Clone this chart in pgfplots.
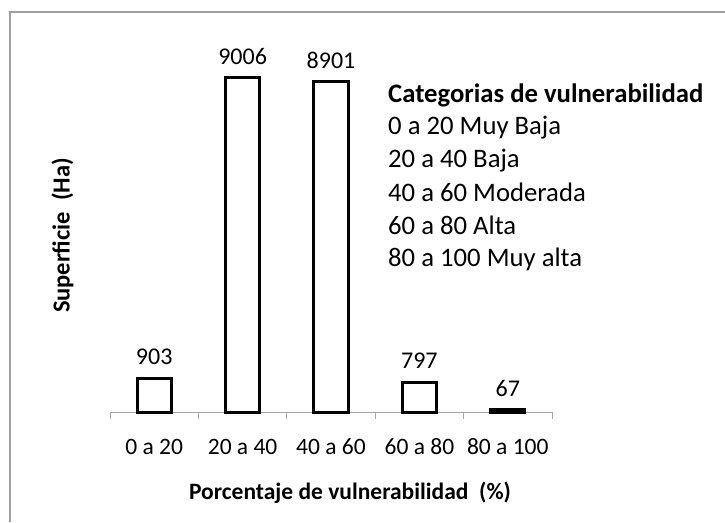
\documentclass[border=0pt]{standalone}
\usepackage{pgfplots}
\pgfplotsset{compat=1.18}
\usepackage{fontspec}
\setmainfont{Carlito}
\begin{document}
\begin{tikzpicture}[x=1pt,y=1pt]
\useasboundingbox (0,0) rectangle (725,522);
\draw[gray!75, line width=1.5pt] (10,0) -- (10,510) -- (725,510);
\begin{axis}[
  at={(110pt,110pt)}, anchor=south west,
  scale only axis, width=442pt, height=376pt,
  xmin=-0.5, xmax=4.5, ymin=0, ymax=10130,
  axis x line=bottom, axis y line=none,
  axis line style={gray!70, line width=1pt, -},
  xtick={0,1,2,3,4},
  xticklabels={0 a 20, 20 a 40, 40 a 60, 60 a 80, 80 a 100},
  minor xtick={-0.5,0.5,1.5,2.5,3.5,4.5},
  major tick length=0pt, minor tick length=7pt, tick align=outside,
  minor tick style={gray!70, line width=1pt},
  xticklabel style={font=\fontsize{23.5}{28}\selectfont, anchor=base, yshift=-42pt},
  xlabel={\textbf{Porcentaje de vulnerabilidad\ \ (\%)}},
  xlabel style={font=\fontsize{23.5}{28}\selectfont, at={(axis description cs:0.543,-0.234)}, anchor=base},
  ybar, bar width=0.385,
  nodes near coords,
  /pgf/number format/.cd, 1000 sep={}, assume math mode=true, /pgfplots/.cd,
  every node near coord/.append style={font=\fontsize{24}{28}\selectfont, anchor=base, yshift=13.5pt, black},
  clip=false,
]
\addplot[fill=white, draw=black, line width=3pt] coordinates {(0,903) (1,9006) (2,8901) (3,797) (4,67)};
\end{axis}
\node[rotate=90, font=\fontsize{24.5}{28}\selectfont\bfseries] at (62.5,286.5) {Superficie\ \ (Ha)};
\begin{scope}[every node/.style={anchor=base west, inner sep=0pt, font=\fontsize{26.7}{30}\selectfont}]
\node at (388,419) {\textbf{Categorias de vulnerabilidad}};
\node at (388,387) {0 a 20 Muy Baja};
\node at (388,354) {20 a 40 Baja};
\node at (388,320) {40 a 60 Moderada};
\node at (388,287) {60 a 80 Alta};
\node at (388,255) {80 a 100 Muy alta};
\end{scope}
\end{tikzpicture}
\end{document}
